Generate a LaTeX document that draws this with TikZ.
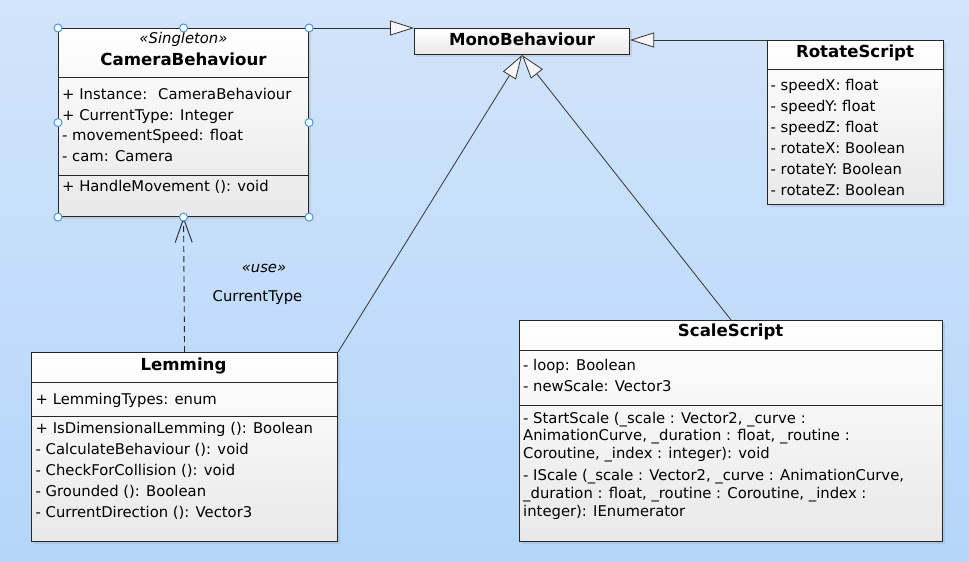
\documentclass[tikz,border=0pt]{standalone}
\usepackage{fontspec}
\setmainfont{DejaVu Sans}
\usetikzlibrary{arrows.meta, shadows}
\definecolor{bgtop}{RGB}{210,228,250}
\definecolor{bgbottom}{RGB}{180,214,250}
\definecolor{handleblue}{RGB}{70,150,230}
\newcommand\memberfont{\fontsize{14.8}{18}\selectfont}
\newcommand\classfont{\fontsize{16.6}{20}\selectfont\bfseries}

\tikzset{
  classbox/.style={draw=black!85, line width=1.1pt, anchor=north west, inner sep=0pt,
    top color=white, bottom color=black!9,
    drop shadow={shadow xshift=2.5pt, shadow yshift=-2.5pt, opacity=0.18}},
  classname/.style={anchor=base, inner sep=0pt, font=\classfont},
  member/.style={anchor=base west, inner sep=0pt, font=\memberfont},
  sep/.style={draw=black!85, line width=0.9pt},
  inherit/.style={draw=black!80, line width=0.8pt, -{Triangle[length=24pt, width=15pt, fill=black!4]}},
  usage/.style={draw=black!85, line width=0.9pt, dash pattern=on 6pt off 4pt, -{Straight Barb[length=24pt, width=17pt]}},
  selhandle/.style={draw=handleblue, fill=white, line width=1pt}
}

\begin{document}
\begin{tikzpicture}[x=1pt, y=-1pt]
    \useasboundingbox (0,0) rectangle (969,562);
    \shade[top color=bgtop, bottom color=bgbottom] (0,0) rectangle (969,562);

    % CameraBehaviour
    \node[classbox, minimum width=250pt, minimum height=188pt] (camera) at (58,28) {};
    \node[member, anchor=base, font=\memberfont\itshape] (camstereo) at (183.5,43) {«Singleton»};
    \node[classname] (camname) at (183.5,65) {CameraBehaviour};
    \draw[sep] (58,77.3) -- (308,77.3);
    \node[member] (camattr1) at (62,99.3) {+ Instance: \ CameraBehaviour};
    \node[member] (camattr2) at (62,120) {+ CurrentType: Integer};
    \node[member] (camattr3) at (62,140.7) {- movementSpeed: float};
    \node[member] (camattr4) at (62,161.7) {- cam: Camera};
    \draw[sep] (58,175) -- (308,175);
    \node[member] (camop1) at (62,191.7) {+ HandleMovement (): void};

    % MonoBehaviour
    \node[classbox, minimum width=215pt, minimum height=26pt] (mono) at (414,28) {};
    \node[classname] (mononame) at (522,45.7) {MonoBehaviour};

    % RotateScript
    \node[classbox, minimum width=176pt, minimum height=164pt] (rotatescript) at (767,40) {};
    \node[classname] (rotname) at (855,57.3) {RotateScript};
    \draw[sep] (767,69.3) -- (943,69.3);
    \node[member] (rotattr1) at (770.5,90) {- speedX: float};
    \node[member] (rotattr2) at (770.5,111) {- speedY: float};
    \node[member] (rotattr3) at (770.5,132) {- speedZ: float};
    \node[member] (rotattr4) at (770.5,153) {- rotateX: Boolean};
    \node[member] (rotattr5) at (770.5,174) {- rotateY: Boolean};
    \node[member] (rotattr6) at (770.5,195) {- rotateZ: Boolean};

    % Lemming
    \node[classbox, minimum width=306pt, minimum height=189pt] (lemming) at (31,352) {};
    \node[classname] (lemname) at (183.5,370.7) {Lemming};
    \draw[sep] (31,382.3) -- (337,382.3);
    \node[member] (lemattr1) at (35.5,404) {+ LemmingTypes: enum};
    \draw[sep] (31,416.3) -- (337,416.3);
    \node[member] (lemop1) at (35.5,433.3) {+ IsDimensionalLemming (): Boolean};
    \node[member] (lemop2) at (35.5,454.3) {- CalculateBehaviour (): void};
    \node[member] (lemop3) at (35.5,475) {- CheckForCollision (): void};
    \node[member] (lemop4) at (35.5,496) {- Grounded (): Boolean};
    \node[member] (lemop5) at (35.5,517.7) {- CurrentDirection (): Vector3};

    % ScaleScript
    \node[classbox, minimum width=423pt, minimum height=221pt] (scalescript) at (519,320) {};
    \node[classname] (scalename) at (730.7,336.7) {ScaleScript};
    \draw[sep] (519,350.7) -- (942,350.7);
    \node[member] (scaleattr1) at (523,370.7) {- loop: Boolean};
    \node[member] (scaleattr2) at (523,391.7) {- newScale: Vector3};
    \draw[sep] (519,405.7) -- (942,405.7);
    \node[member] (scaleop1) at (523,423) {- StartScale (\_scale : Vector2, \_curve :};
    \node[member] (scaleop1b) at (523,440.7) {AnimationCurve, \_duration : float, \_routine :};
    \node[member] (scaleop1c) at (523,458.3) {Coroutine, \_index : integer): void};
    \node[member] (scaleop2) at (523,480.7) {- IScale (\_scale : Vector2, \_curve : AnimationCurve,};
    \node[member] (scaleop2b) at (523,498.3) {\_duration : float, \_routine : Coroutine, \_index :};
    \node[member] (scaleop2c) at (523,516) {integer): IEnumerator};

    % connectors
    \draw[inherit] (camera.north east) -- (mono.north west);
    \draw[inherit] (rotatescript.north west) -- (mono.east |- rotatescript.north west);
    \draw[inherit] (lemming.north east) -- (mono.south);
    \draw[inherit] (scalescript.north) -- (mono.south);
    \draw[usage] (lemming.north) -- (camera.south);
    \node[member, anchor=base, font=\memberfont\itshape] (usestereo) at (264,272.7) {«use»};
    \node[member, anchor=base] (uselabel) at (257.5,301) {CurrentType};

    % selection handles
    \foreach \a in {north west, north, north east, west, east, south west, south, south east}
        \draw[selhandle] (camera.\a) circle (4pt);
\end{tikzpicture}
\end{document}
